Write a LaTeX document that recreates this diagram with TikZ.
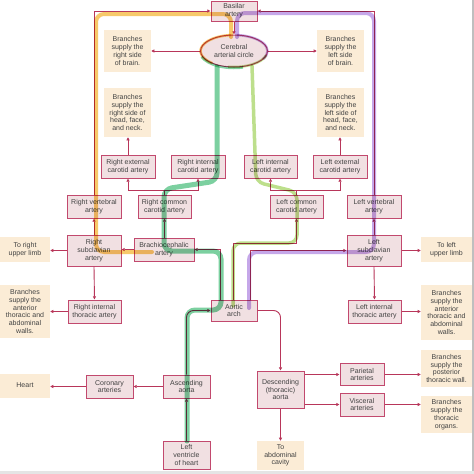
\documentclass[tikz,border=0pt]{standalone}
\usepackage{fontspec}
\setmainfont{Liberation Sans}
\usetikzlibrary{shapes.geometric,arrows.meta}
\definecolor{boxfill}{HTML}{F1E0E2}
\definecolor{boxline}{HTML}{C2496E}
\definecolor{arrcol}{HTML}{B8365A}
\definecolor{beige}{HTML}{FBECD6}
\definecolor{txt}{HTML}{424242}
\definecolor{hlY}{HTML}{F6C050}
\definecolor{hlG}{HTML}{66C890}
\definecolor{hlL}{HTML}{B2DA78}
\definecolor{hlP}{HTML}{BC98E6}
\begin{document}
\begin{tikzpicture}[x=1pt,y=-1pt,
  every node/.style={font=\fontsize{7}{7.8}\selectfont, text=txt, align=center, inner sep=0pt},
  abox/.style={draw=boxline, fill=boxfill, line width=1pt},
  bbox/.style={fill=beige, draw=none},
  conn/.style={draw=arrcol, line width=0.9pt},
  arr/.style={conn, -{Triangle[length=3.2pt,width=3pt]}},
  hl/.style={line width=4pt, opacity=0.85, rounded corners=8pt, line cap=round}
]
\useasboundingbox (0,0) rectangle (474,474);
\fill[white] (0,0) rectangle (474,474);
\fill[black!25] (472,0) rectangle (474,474);
\fill[black!10] (0,471) rectangle (474,474);

% top
\node[abox, minimum width=46pt, minimum height=20pt] (bas) at (234,11) {Basilar\\artery};
\node[abox, ellipse, minimum width=67pt, minimum height=32pt] (cer) at (234,51) {Cerebral\\arterial circle};
\node[bbox, minimum width=47pt, minimum height=42pt] (brR) at (127.5,51) {Branches\\supply the\\right side\\of brain.};
\node[bbox, minimum width=47pt, minimum height=42pt] (brL) at (340.5,51) {Branches\\supply the\\left side\\of brain.};
\node[bbox, minimum width=47pt, minimum height=49pt] (hfR) at (127.5,112.5) {Branches\\supply the\\right side of\\head, face,\\and neck.};
\node[bbox, minimum width=47pt, minimum height=49pt] (hfL) at (340.5,112.5) {Branches\\supply the\\left side of\\head, face,\\and neck.};

% carotid row
\node[abox, minimum width=54pt, minimum height=23pt] (rec) at (128,166.5) {Right external\\carotid artery};
\node[abox, minimum width=54pt, minimum height=23pt] (ric) at (198,166.5) {Right internal\\carotid artery};
\node[abox, minimum width=53pt, minimum height=23pt] (lic) at (270.5,166.5) {Left internal\\carotid artery};
\node[abox, minimum width=54pt, minimum height=23pt] (lec) at (340,166.5) {Left external\\carotid artery};

\node[abox, minimum width=54pt, minimum height=23pt] (rv) at (94,206.5) {Right vertebral\\artery};
\node[abox, minimum width=53pt, minimum height=23pt] (rcc) at (164.5,206.5) {Right common\\carotid artery};
\node[abox, minimum width=53pt, minimum height=23pt] (lcc) at (296.5,206.5) {Left common\\carotid artery};
\node[abox, minimum width=54pt, minimum height=23pt] (lv) at (374,206.5) {Left vertebral\\artery};

\node[abox, minimum width=54pt, minimum height=31pt] (rs) at (94,250.5) {Right\\subclavian\\artery};
\node[abox, minimum width=60pt, minimum height=23pt] (bc) at (164,249.5) {Brachiocephalic\\artery};
\node[abox, minimum width=54pt, minimum height=31pt] (ls) at (374,250.5) {Left\\subclavian\\artery};
\node[bbox, minimum width=50pt, minimum height=25pt] (rul) at (25,249.5) {To right\\upper limb};
\node[bbox, minimum width=51pt, minimum height=25pt] (lul) at (446.5,249.5) {To left\\upper limb};

\node[abox, minimum width=53pt, minimum height=23pt] (rit) at (94.5,311.5) {Right internal\\thoracic artery};
\node[abox, minimum width=53pt, minimum height=23pt] (lit) at (374.5,311.5) {Left internal\\thoracic artery};
\node[bbox, minimum width=50pt, minimum height=53pt] (bwR) at (25,311.5) {Branches\\supply the\\anterior\\thoracic and\\abdominal\\walls.};
\node[bbox, minimum width=51pt, minimum height=55pt] (bwL) at (446.5,312.5) {Branches\\supply the\\anterior\\thoracic and\\abdominal\\walls.};

\node[abox, minimum width=46pt, minimum height=21pt] (aa) at (234,310.5) {Aortic\\arch};

\node[abox, minimum width=47pt, minimum height=23pt] (asc) at (186.5,386.5) {Ascending\\aorta};
\node[abox, minimum width=47pt, minimum height=23pt] (cor) at (109.5,386.5) {Coronary\\arteries};
\node[bbox, minimum width=50pt, minimum height=24pt] (heart) at (25,385.5) {Heart};
\node[abox, minimum width=47pt, minimum height=28pt] (lvh) at (186.5,455) {Left\\ventricle\\of heart};

\node[abox, minimum width=47pt, minimum height=37pt] (desc) at (280.5,389.5) {Descending\\(thoracic)\\aorta};
\node[abox, minimum width=44pt, minimum height=22pt] (par) at (362,374.5) {Parietal\\arteries};
\node[abox, minimum width=44pt, minimum height=23pt] (vis) at (362,404.5) {Visceral\\arteries};
\node[bbox, minimum width=51pt, minimum height=37pt] (bpw) at (446.5,368.5) {Branches\\supply the\\posterior\\thoracic wall.};
\node[bbox, minimum width=51pt, minimum height=37pt] (bto) at (446.5,414.5) {Branches\\supply the\\thoracic\\organs.};
\node[bbox, minimum width=47pt, minimum height=29pt] (abd) at (280.5,455.5) {To\\abdominal\\cavity};

% junction coordinates
\coordinate (jR) at (164.5,190);
\coordinate (jL) at (296.5,190);
\coordinate (kL) at (296.5,243);

% connectors
\draw[arr] (bas.south) -- (cer.north);
\draw[arr] (cer.west) -- (brR.east);
\draw[arr] (cer.east) -- (brL.west);
\draw[arr] (rec.north) -- (rec.north |- hfR.south);
\draw[arr] (lec.north) -- (lec.north |- hfL.south);
\draw[conn] (rcc.north) -- (jR);
\draw[arr] (jR) -| (rec.south);
\draw[arr] (jR) -| (ric.south);
\draw[conn] (lcc.north) -- (jL);
\draw[arr] (jL) -| (lic.south);
\draw[arr] (jL) -| (lec.south);
\draw[arr] (bc.north -| rcc.south) -- (rcc.south);
\draw[arr] (bc.west) -- (bc.west -| rs.east);
\draw[arr] (rs.north) -- (rv.south);
\draw[arr] (rs.west) -- (rs.west -| rul.east);
\draw[arr] (rs.south) -- (rit.north);
\draw[arr] (rit.west) -- (rit.west -| bwR.east);
\draw[arr] (ls.north) -- (lv.south);
\draw[arr] (ls.east) -- (ls.east -| lul.west);
\draw[arr] (ls.south) -- (lit.north);
\draw[arr] (lit.east) -- (lit.east -| bwL.west);
\draw[arr] (rv.north) |- (bas.west);
\draw[arr] (lv.north) |- (bas.east);
\draw[arr] ([xshift=-14pt]aa.north) |- (bc.east);
\draw[arr] ([xshift=-1pt]aa.north) |- (kL) -- (lcc.south);
\draw[arr] ([xshift=16pt]aa.north) |- (ls.west);
\draw[arr, rounded corners=7pt] (aa.east) -| (desc.north);
\draw[arr, rounded corners=7pt] (asc.north) |- (aa.west);
\draw[arr] (lvh.north) -- (asc.south);
\draw[arr] (asc.west) -- (cor.east);
\draw[arr] (cor.west) -- (cor.west -| heart.east);
\draw[arr] (desc.south) -- (abd.north);
\draw[arr] (desc.east |- par.west) -- (par.west);
\draw[arr] (desc.east |- vis.west) -- (vis.west);
\draw[arr] (par.east) -- (par.east -| bpw.west);
\draw[arr] (vis.east) -- (vis.east -| bto.west);

% highlighted pathways
\begin{scope}[blend mode=multiply]
\draw[hl, hlY] (152,252) -| (96,14) -| (231,37);
\draw[hl, hlP] (249,308) |- (374,252) |- (237,13) -- (237,37);
\draw[hl, hlG, line width=5pt] (187,441) |- (221,310) -- (221,251) -- (164,251) -- (164,189) -- (217,181) -- (217,67);
\draw[hl, hlL, line width=3.5pt] (233,306) |- (297,243) -- (297,192) -- (256,182) -- (252,66);
% coloured outline of the cerebral arterial circle
\draw[hlY, line width=2.5pt, opacity=.85] ([shift={(95:33.5pt and 16pt)}]cer.center) arc[start angle=95, end angle=230, x radius=33.5pt, y radius=16pt];
\draw[hlG, line width=2.5pt, opacity=.8] ([shift={(200:34.5pt and 17pt)}]cer.center) arc[start angle=200, end angle=285, x radius=34.5pt, y radius=17pt];
\draw[hlL, line width=2.5pt, opacity=.8] ([shift={(260:33.5pt and 16pt)}]cer.center) arc[start angle=260, end angle=345, x radius=33.5pt, y radius=16pt];
\draw[hlP, line width=2.5pt, opacity=.8] ([shift={(-30:33.5pt and 16pt)}]cer.center) arc[start angle=-30, end angle=85, x radius=33.5pt, y radius=16pt];
\end{scope}
\end{tikzpicture}
\end{document}
